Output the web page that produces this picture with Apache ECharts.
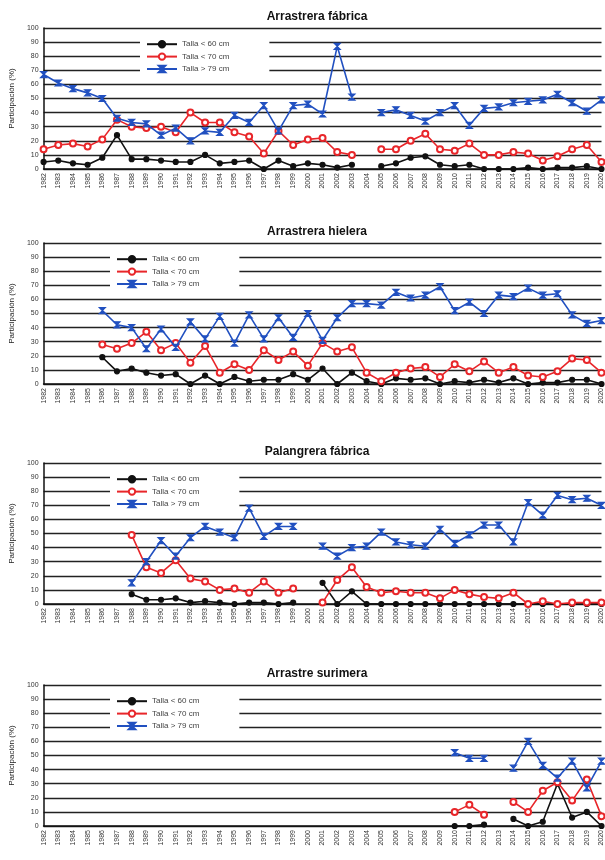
<!DOCTYPE html>
<html>
<head>
<meta charset="utf-8">
<script src="https://cdn.jsdelivr.net/npm/echarts@6/dist/echarts.min.js"></script>
<style>
  html, body { margin: 0; padding: 0; background: #fff; }
  #chart { width: 605px; height: 860px; }
</style>
</head>
<body>
<div id="chart"></div>
<script>
// Years 1982 - 2020
const years = [];
for (let y = 1982; y <= 2020; y++) years.push(String(y));

const titles = ['Arrastrera fábrica', 'Arrastrera hielera', 'Palangrera fábrica', 'Arrastre surimera'];
const seriesNames = ['Talla < 60 cm', 'Talla < 70 cm', 'Talla > 79 cm'];

// Arrastrera fábrica (1982-2020, 2004 sin dato)
const afSmall = [5,6,4,3,8,24,7,7,6,5,5,10,4,5,6,0,6,2,4,3,1,3,null,2,4,8,9,3,2,3,0,0,0,1,0,1,1,2,0];
const afMid   = [14,17,18,16,21,35,30,29,30,26,40,33,33,26,23,11,27,17,21,22,12,10,null,14,14,20,25,14,13,18,10,10,12,11,6,9,14,17,5];
const afLarge = [67,61,57,54,50,36,33,32,24,29,20,27,26,38,33,45,27,45,46,39,87,51,null,40,42,38,34,40,45,31,43,44,47,48,49,53,47,41,49];

// Arrastrera hielera (desde 1986)
const ahSmall = [null,null,null,null,19,9,11,8,6,7,0,6,0,5,2,3,3,7,3,11,0,8,2,0,4,3,4,0,2,1,3,1,4,0,1,1,3,3,0];
const ahMid   = [null,null,null,null,28,25,29,37,24,29,15,27,8,14,10,24,17,23,13,29,23,26,8,2,8,11,12,5,14,9,16,8,12,6,5,9,18,17,8];
const ahLarge = [null,null,null,null,52,42,40,25,39,26,44,32,48,29,49,32,47,33,50,31,47,57,57,56,65,61,63,69,52,58,50,63,62,68,63,64,49,43,45];

// Palangrera fábrica (desde 1988, 2000 sin dato)
const pfSmall = [null,null,null,null,null,null,7,3,3,4,1,2,1,0,1,1,0,1,null,15,0,9,0,0,0,0,0,0,0,0,0,0,0,0,0,0,0,0,0];
const pfMid   = [null,null,null,null,null,null,49,26,22,31,18,16,10,11,8,16,8,11,null,1,17,26,12,8,9,8,8,4,10,7,5,4,8,0,2,0,1,1,1];
const pfLarge = [null,null,null,null,null,null,15,30,45,34,47,55,51,47,68,48,55,55,null,41,34,40,41,51,44,42,41,53,43,49,56,56,44,72,63,77,74,75,70];

// Arrastre surimera (2010-2012, 2014-2020)
const emptyYears = years.slice(0, 28).map(() => null);
const asSmall = emptyYears.concat([0,0,1,null,5,0,3,30,6,10,0]);
const asMid   = emptyYears.concat([10,15,8,null,17,10,25,31,18,33,7]);
const asLarge = emptyYears.concat([52,48,48,null,41,60,43,34,46,27,46]);

const panels = [
  [afSmall, afMid, afLarge],
  [ahSmall, ahMid, ahLarge],
  [pfSmall, pfMid, pfLarge],
  [asSmall, asMid, asLarge]
];

const colors = ['#111111', '#e8262a', '#2150c0'];
const symbols = ['circle', 'emptyCircle', 'path://M0,0L10,0L0,10L10,10Z'];
const symbolSizes = [5, 6, 6];

const panelTops = [28, 243, 463, 685];
const plotHeight = 141;
const legendLefts = [140, 110, 110, 110];

const option = {
  backgroundColor: '#ffffff',
  animation: false,
  title: [],
  legend: [],
  grid: [],
  xAxis: [],
  yAxis: [],
  series: []
};

panels.forEach((data, p) => {
  const top = panelTops[p];
  option.title.push({
    text: titles[p],
    left: 312, textAlign: 'center',
    top: top - 22,
    textStyle: { fontFamily: 'Liberation Sans', fontSize: 12, fontWeight: 'bold', color: '#111' }
  });
  option.grid.push({ left: 28, right: -4, top: top, height: plotHeight });
  option.xAxis.push({
    type: 'category', gridIndex: p, data: years, boundaryGap: false,
    axisLine: { lineStyle: { color: '#111', width: 1.5 } },
    axisTick: { show: false },
    axisLabel: { rotate: 90, fontSize: 7, color: '#333', interval: 0, margin: 4, fontFamily: 'Liberation Sans' }
  });
  option.yAxis.push({
    type: 'value', gridIndex: p, min: 0, max: 100, interval: 10,
    name: 'Participación (%)', nameLocation: 'middle', nameGap: 17,
    nameTextStyle: { fontSize: 8, color: '#222', fontFamily: 'Liberation Sans' },
    axisLine: { show: true, lineStyle: { color: '#111', width: 1.5 } },
    axisTick: { show: false },
    axisLabel: { fontSize: 7, color: '#333', margin: 5, fontFamily: 'Liberation Sans' },
    splitLine: { lineStyle: { color: '#222', width: 1.3 } }
  });
  option.legend.push({
    orient: 'vertical', left: legendLefts[p], top: top + 10,
    itemGap: 4, itemWidth: 30, itemHeight: 8,
    backgroundColor: '#ffffff', padding: [2, 40, 2, 6],
    textStyle: { fontSize: 8, color: '#444', fontFamily: 'Liberation Sans' },
    data: seriesNames.map((n) => n + '\u200b'.repeat(p))
  });
  data.forEach((values, s) => {
    option.series.push({
      name: seriesNames[s] + '\u200b'.repeat(p),
      type: 'line', xAxisIndex: p, yAxisIndex: p,
      data: values, connectNulls: false,
      symbol: symbols[s], symbolSize: symbolSizes[s],
      lineStyle: { color: colors[s], width: 1.6 },
      itemStyle: { color: colors[s], borderColor: colors[s], borderWidth: 1.2 },
      z: 3 + s
    });
  });
});

const myChart = echarts.init(document.getElementById('chart'));
myChart.setOption(option);
</script>
</body>
</html>
